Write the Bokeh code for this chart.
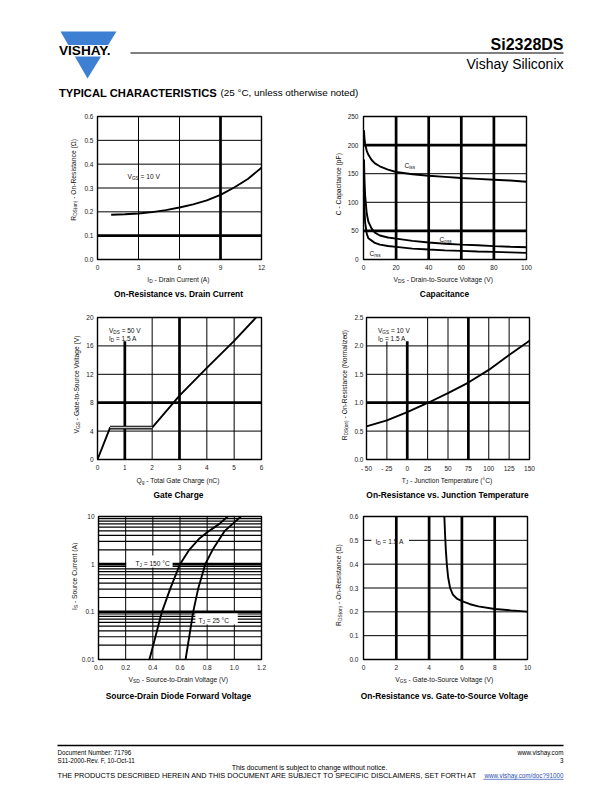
import math
from bokeh.plotting import figure
from bokeh.layouts import column, row
from bokeh.models import Range1d, Label, FixedTicker, NumeralTickFormatter
from bokeh.embed import file_html
from bokeh.resources import INLINE

FONT = "Liberation Sans"

# ---------------- data ----------------
# 1. On-Resistance vs. Drain Current (VGS = 10 V)
id_amp = [1, 2, 3, 4, 5, 6, 7, 8, 9, 10, 11, 12]
rds_vs_id = [0.188, 0.190, 0.193, 0.199, 0.207, 0.218, 0.231, 0.248, 0.271, 0.302, 0.338, 0.385]
c1_xticks = [0, 3, 6, 9, 12]
c1_yticks = [0.0, 0.1, 0.2, 0.3, 0.4, 0.5, 0.6]

# 2. Capacitance
vds_volt = [0.3, 0.6, 1, 2, 3, 5, 7, 10, 15, 20, 30, 40, 50, 60, 70, 80, 90, 100]
c_iss = [226, 212, 202, 190, 183, 174, 168, 163, 157, 153, 149, 146.5, 144.5, 142.5, 141, 139.5, 138, 136]
c_oss = [175, 140, 112, 80, 66, 54, 47, 42, 38.5, 36.5, 32.5, 29.6, 27.6, 26, 24.8, 23.4, 22.4, 21.5]
c_rss = [120, 85, 65, 45, 37, 33, 29, 26, 23.5, 22, 19, 17.4, 16, 15, 14, 13.3, 12.4, 11.6]
c2_xticks = [0, 20, 40, 60, 80, 100]
c2_yticks = [0, 50, 100, 150, 200, 250]

# 3. Gate Charge (VDS = 50 V, ID = 1.5 A)
qg_nc = [0, 0.46, 2.0, 3.0, 4.0, 5.0, 5.8]
vgs_qg = [0, 4.5, 4.5, 9.0, 12.9, 16.7, 20]
c3_xticks = [0, 1, 2, 3, 4, 5, 6]
c3_yticks = [0, 4, 8, 12, 16, 20]

# 4. On-Resistance vs. Junction Temperature
tj_c = [-50, -25, 0, 25, 50, 75, 100, 125, 150]
rds_norm = [0.584, 0.69, 0.835, 0.995, 1.168, 1.355, 1.577, 1.84, 2.09]
c4_xticks = [-50, -25, 0, 25, 50, 75, 100, 125, 150]
c4_xlabels = {-50: "- 50", -25: "- 25"}
c4_yticks = [0.0, 0.5, 1.0, 1.5, 2.0, 2.5]

# 5. Source-Drain Diode Forward Voltage
vsd_150 = [0.375, 0.419, 0.467, 0.527, 0.600, 0.668, 0.745, 0.815, 0.89, 0.951]
is_150 = [0.01, 0.03, 0.1, 0.3, 1, 2, 3.5, 5, 7, 10]
vsd_25 = [0.641, 0.668, 0.697, 0.733, 0.786, 0.840, 0.930, 1.048]
is_25 = [0.01, 0.03, 0.1, 0.3, 1, 2, 5, 10]
c5_xticks = [0.0, 0.2, 0.4, 0.6, 0.8, 1.0, 1.2]
c5_yticks = [0.01, 0.1, 1, 10]
c5_yminor = [0.02, 0.03, 0.04, 0.05, 0.06, 0.07, 0.08, 0.09,
             0.2, 0.3, 0.4, 0.5, 0.6, 0.7, 0.8, 0.9,
             2, 3, 4, 5, 6, 7, 8, 9]

# 6. On-Resistance vs. Gate-to-Source Voltage (ID = 1.5 A)
vgs_volt = [4.93, 4.97, 5.02, 5.08, 5.16, 5.28, 5.45, 5.7, 6.0, 6.5, 7.0, 8.0, 9.0, 10.0]
rds_vs_vgs = [0.6, 0.53, 0.46, 0.40, 0.345, 0.30, 0.272, 0.255, 0.245, 0.232, 0.223, 0.212, 0.206, 0.201]
c6_xticks = [0, 2, 4, 6, 8, 10]
c6_yticks = [0.0, 0.1, 0.2, 0.3, 0.4, 0.5, 0.6]

# ---------------- text helpers ----------------
W = {' ': 278, '(': 333, ')': 333, '-': 333, '.': 278, '/': 278, ':': 278, '=': 584,
     '°': 400, ',': 278, '?': 556, 'Ω': 768}
for d in "0123456789":
    W[d] = 556
W.update(dict(zip("ABCDEFGHIJKLMNOPQRSTUVWXYZ",
                  [667, 667, 722, 722, 667, 611, 778, 722, 278, 500, 667, 556, 833,
                   722, 778, 667, 778, 722, 667, 611, 722, 667, 944, 667, 667, 611])))
W.update(dict(zip("abcdefghijklmnopqrstuvwxyz",
                  [556, 556, 500, 556, 556, 278, 556, 556, 222, 222, 500, 222, 833,
                   556, 556, 556, 556, 333, 500, 278, 556, 500, 722, 500, 500, 500])))
SUB = 0.72


def tw(s, size):
    return sum(W.get(c, 556) for c in s) * size / 1000.0


def fit(s, width):
    return f"{width / tw(s, 1.0):.2f}px"


def _pieces(parts, size, align):
    items = [(t, size * SUB if sub else size, sub) for t, sub in parts]
    widths = [tw(t, s) for t, s, _ in items]
    total = sum(widths)
    off = {"left": 0, "center": -total / 2, "right": -total}[align]
    out = []
    for (t, s, sub), w in zip(items, widths):
        lead = len(t) - len(t.lstrip(" "))
        out.append((t.lstrip(" "), s, off + tw(" " * lead, s),
                    0.35 * size + (0.3 * size if sub else 0)))
        off += w
    return out


def rich_screen(p, g, px, py, parts, size, color="#111111"):
    """annotation inside a chart frame, positioned from page coordinates"""
    sx = px - g["fl"]
    sy = g["fb"] - py
    for t, s, off, drop in _pieces(parts, size, "left"):
        p.add_layout(Label(x=sx + off, y=sy - drop, x_units="screen", y_units="screen",
                           text=t, text_font=FONT, text_font_size=f"{s:.2f}px",
                           text_color=color, text_align="left", text_baseline="alphabetic"))


def rich_page(f, px, py, parts, size, align="center", vertical=False, color="#111111"):
    """text in a page-coordinate figure"""
    for t, s, off, drop in _pieces(parts, size, align):
        if vertical:
            xo, yo, ang = drop, off, math.pi / 2
        else:
            xo, yo, ang = off, -drop, 0
        f.add_layout(Label(x=px, y=py, x_offset=xo, y_offset=yo, angle=ang,
                           text=t, text_font=FONT, text_font_size=f"{s:.2f}px",
                           text_color=color, text_align="left", text_baseline="alphabetic"))


def ptext(f, x, y, text, size, align="left", bold=False, color="black"):
    f.add_layout(Label(x=x, y=y, text=text, text_font=FONT, text_font_size=size,
                       text_font_style="bold" if bold else "normal", text_color=color,
                       text_align=align, text_baseline="middle"))


def page_fig(x0, x1, y0, y1):
    f = figure(width=int(x1 - x0), height=int(y1 - y0), x_range=Range1d(x0, x1),
               y_range=Range1d(y1, y0), output_backend="svg", toolbar_location=None,
               min_border=0, x_axis_location=None, y_axis_location=None)
    f.grid.visible = False
    f.outline_line_color = None
    f.background_fill_color = "white"
    f.border_fill_color = "white"
    return f


def to_data(g, px, py):
    x0, x1 = g["xr"]
    y0, y1 = g["yr"]
    fx = (px - g["fl"]) / g["fw"]
    fy = (g["fb"] - py) / g["fh"]
    x = x0 + fx * (x1 - x0)
    if g["log"]:
        y = 10 ** (math.log10(y0) + fy * (math.log10(y1) - math.log10(y0)))
    else:
        y = y0 + fy * (y1 - y0)
    return x, y


BB = 14  # bottom border inside chart figure (x tick labels)
THIN, THICK, MINOR = 1.0, 2.7, 1.2


def chart(x0, x1, y0, fl, fw, ft, fb, bl, xr, yr, xticks, yticks,
          thick_x=(), thick_y=(), ylog=False, yminor=(), gaps=()):
    width = x1 - (fl - bl)
    height = fb + BB - y0
    p = figure(width=width, height=height, x_range=Range1d(*xr), y_range=Range1d(*yr),
               y_axis_type="log" if ylog else "linear",
               output_backend="svg", toolbar_location=None,
               min_border_left=bl, min_border_right=width - bl - fw,
               min_border_top=ft - y0, min_border_bottom=BB)
    p.outline_line_color = "black"
    p.outline_line_width = 1.4
    p.background_fill_color = "white"
    p.border_fill_color = "white"
    p.grid.visible = False
    for ax in (p.xaxis[0], p.yaxis[0]):
        ax.axis_line_color = None
        ax.major_tick_line_color = None
        ax.minor_tick_line_color = None
        ax.major_tick_out = 0
        ax.major_tick_in = 0
        ax.minor_tick_out = 0
        ax.minor_tick_in = 0
        ax.major_label_text_font = FONT
        ax.major_label_text_font_size = "6.5px"
        ax.major_label_text_color = "#222222"
    p.xaxis[0].major_label_standoff = 5
    p.yaxis[0].major_label_standoff = 4
    p.xaxis[0].ticker = FixedTicker(ticks=list(xticks))
    p.yaxis[0].ticker = FixedTicker(ticks=list(yticks))
    g = dict(fl=fl, fb=fb, fw=fw, fh=fb - ft, xr=xr, yr=yr, log=ylog)

    # white gaps left in the grid behind in-chart notes (page px rects)
    boxes = []
    for bx0, by0, bx1, by1, mode in gaps:
        l, t = to_data(g, bx0, by0)
        r, b = to_data(g, bx1, by1)
        boxes.append((l, r, b, t, mode))

    sx0, sx1, sy0, sy1, sw = [], [], [], [], []
    for v in xticks:
        w = THICK if v in thick_x else THIN
        cuts = sorted((b, t) for (l, r, b, t, m) in boxes if "v" in m and l < v < r)
        start = yr[0]
        for b, t in cuts:
            sx0.append(v); sx1.append(v); sy0.append(start); sy1.append(b); sw.append(w)
            start = t
        sx0.append(v); sx1.append(v); sy0.append(start); sy1.append(yr[1]); sw.append(w)
    for v in list(yticks) + list(yminor):
        w = THICK if v in thick_y else (THIN if v in yticks else MINOR)
        cuts = sorted((l, r) for (l, r, b, t, m) in boxes if "h" in m and b < v < t)
        start = xr[0]
        for l, r in cuts:
            sx0.append(start); sx1.append(l); sy0.append(v); sy1.append(v); sw.append(w)
            start = r
        sx0.append(start); sx1.append(xr[1]); sy0.append(v); sy1.append(v); sw.append(w)
    p.segment(x0=sx0, x1=sx1, y0=sy0, y1=sy1, line_color="black", line_width=sw)
    return p, g


LW = 1.9
RDS = [("R", 0), ("DS(on)", 1), (" - On-Resistance (Ω)", 0)]
XR = 604  # right end of content

# row vertical geometry (page px): figure top, frame top, frame bottom
R1 = (108, 116, 259)
R2 = (308, 317, 460)
R3 = (508, 516, 659)
BL = dict(c1=14, c2=17, c3=13, c4=14, c5=18, c6=15)

# ---- chart 1 ----
p1, g1 = chart(0, 308, R1[0], 95, 166, R1[1], R1[2], BL["c1"], (0, 12), (0, 0.6),
               c1_xticks, c1_yticks, thick_x=[9], thick_y=[0.1])
p1.yaxis[0].formatter = NumeralTickFormatter(format="0.0")
p1.line(id_amp, rds_vs_id, line_color="black", line_width=LW)
rich_screen(p1, g1, 125, 174, [("V", 0), ("GS", 1), (" = 10 V", 0)], 6.6)

# ---- chart 2 ----
p2, g2 = chart(308, XR, R1[0], 361, 165, R1[1], R1[2], BL["c2"], (0, 100), (0, 250),
               c2_xticks, c2_yticks, thick_x=[20, 40, 60, 80], thick_y=[200, 50])
p2.yaxis[0].major_label_standoff = 5
p2.line(vds_volt, c_iss, line_color="black", line_width=LW)
p2.line(vds_volt, c_oss, line_color="black", line_width=LW)
p2.line(vds_volt, c_rss, line_color="black", line_width=LW)
rich_screen(p2, g2, 402, 163, [("C", 0), ("iss", 1)], 6.6)
rich_screen(p2, g2, 437, 237, [("C", 0), ("oss", 1)], 6.6)
rich_screen(p2, g2, 367, 251, [("C", 0), ("rss", 1)], 6.6)

# ---- chart 3 ----
p3, g3 = chart(0, 308, R2[0], 96, 165, R2[1], R2[2], BL["c3"], (0, 6), (0, 20),
               c3_xticks, c3_yticks, thick_x=[1, 3], thick_y=[8],
               gaps=[(103.5, 317, 144, 341, "hv")])
p3.line(qg_nc, vgs_qg, line_color="black", line_width=LW)
p3.line(qg_nc[1:3], vgs_qg[1:3], line_color="black", line_width=3.8)
p3.line(qg_nc[1:3], vgs_qg[1:3], line_color="#c8c8c8", line_width=1.4)
rich_screen(p3, g3, 107.5, 329, [("V", 0), ("DS", 1), (" = 50 V", 0)], 6.5)
rich_screen(p3, g3, 107.5, 336.3, [("I", 0), ("D", 1), (" = 1.5 A", 0)], 6.5)

# ---- chart 4 ----
p4, g4 = chart(308, XR, R2[0], 365, 164, R2[1], R2[2], BL["c4"], (-50, 150), (0, 2.5),
               c4_xticks, c4_yticks, thick_x=[0, 75], thick_y=[1.0],
               gaps=[(372.5, 317, 412, 341, "hv")])
p4.xaxis[0].major_label_overrides = c4_xlabels
p4.yaxis[0].formatter = NumeralTickFormatter(format="0.0")
p4.yaxis[0].major_label_standoff = 3
p4.line(tj_c, rds_norm, line_color="black", line_width=LW)
rich_screen(p4, g4, 376.5, 329, [("V", 0), ("GS", 1), (" = 10 V", 0)], 6.5)
rich_screen(p4, g4, 376.5, 336.3, [("I", 0), ("D", 1), (" = 1.5 A", 0)], 6.5)

# ---- chart 5 ----
p5, g5 = chart(0, 308, R3[0], 96, 165, R3[1], R3[2], BL["c5"], (0, 1.2), (0.01, 10),
               c5_xticks, c5_yticks, thick_y=[0.1, 1], ylog=True, yminor=c5_yminor,
               gaps=[(124, 555, 171, 567, "hv"), (194, 612, 237, 624, "hv")])
p5.xaxis[0].formatter = NumeralTickFormatter(format="0.0")
p5.yaxis[0].formatter = NumeralTickFormatter(format="0.[00]")
p5.line(vsd_150, is_150, line_color="black", line_width=LW)
p5.line(vsd_25, is_25, line_color="black", line_width=LW)
rich_screen(p5, g5, 133, 561, [("T", 0), ("J", 1), (" = 150 °C", 0)], 6.6)
rich_screen(p5, g5, 196, 618, [("T", 0), ("J", 1), (" = 25 °C", 0)], 6.6)

# ---- chart 6 ----
p6, g6 = chart(308, XR, R3[0], 361, 166, R3[1], R3[2], BL["c6"], (0, 10), (0, 0.6),
               c6_xticks, c6_yticks, thick_x=[2, 4, 6, 8],
               gaps=[(369, 535, 407, 543.5, "h")])
p6.yaxis[0].formatter = NumeralTickFormatter(format="0.0")
p6.yaxis[0].major_label_standoff = 5
p6.line(vgs_volt, rds_vs_vgs, line_color="black", line_width=LW)
rich_screen(p6, g6, 373, 539, [("I", 0), ("D", 1), (" = 1.5 A", 0)], 6.6)


# ---------------- y-axis label columns ----------------
def ycol(x0, x1, y0, y1, px, py, parts):
    f = page_fig(x0, x1, y0, y1)
    rich_page(f, px, py, parts, 6.7, align="center", vertical=True)
    return f


h1 = R1[2] + BB
h2 = R2[2] + BB
h3 = R3[2] + BB
y1 = ycol(0, 95 - BL["c1"], R1[0], h1, 71, 181, RDS)
y2 = ycol(308, 361 - BL["c2"], R1[0], h1, 336, 186, [("C - Capacitance (pF)", 0)])
y3 = ycol(0, 96 - BL["c3"], R2[0], h2, 74, 386,
          [("V", 0), ("GS", 1), (" - Gate-to-Source Voltage (V)", 0)])
y4 = ycol(308, 365 - BL["c4"], R2[0], h2, 342, 387,
          [("R", 0), ("DS(on)", 1), (" - On-Resistance (Normalized)", 0)])
y5 = ycol(0, 96 - BL["c5"], R3[0], h3, 71.5, 577,
          [("I", 0), ("S", 1), (" - Source Current (A)", 0)])
y6 = ycol(308, 361 - BL["c6"], R3[0], h3, 336, 587, RDS)


def title(f, px, py, text):
    f.add_layout(Label(x=px, y=py, text=text, text_font=FONT, text_font_size="8.4px",
                       text_font_style="bold", text_color="black",
                       text_align="center", text_baseline="middle"))


# ---------------- strips under each row: x-axis labels + titles ----------------
s1 = page_fig(0, XR, h1, R2[0])
rich_page(s1, 178, 277, [("I", 0), ("D", 1), (" - Drain Current (A)", 0)], 6.7)
rich_page(s1, 443, 277, [("V", 0), ("DS", 1), (" - Drain-to-Source Voltage (V)", 0)], 6.7)
title(s1, 178, 293, "On-Resistance vs. Drain Current")
title(s1, 444, 293, "Capacitance")

s2 = page_fig(0, XR, h2, R3[0])
rich_page(s2, 178, 478, [("Q", 0), ("g", 1), (" - Total Gate Charge (nC)", 0)], 6.7)
rich_page(s2, 447, 478, [("T", 0), ("J", 1), (" - Junction Temperature (°C)", 0)], 6.7)
title(s2, 178, 494, "Gate Charge")
title(s2, 447, 494, "On-Resistance vs. Junction Temperature")

s3 = page_fig(0, XR, h3, 708)
rich_page(s3, 178, 677, [("V", 0), ("SD", 1), (" - Source-to-Drain Voltage (V)", 0)], 6.7)
rich_page(s3, 444, 677, [("V", 0), ("GS", 1), (" - Gate-to-Source Voltage (V)", 0)], 6.7)
title(s3, 178, 695, "Source-Drain Diode Forward Voltage")
title(s3, 444, 695, "On-Resistance vs. Gate-to-Source Voltage")

# ---------------- header & footer ----------------
hdr = page_fig(0, XR, 0, 108)
hdr.patch([60, 116, 87], [31, 31, 78], fill_color="#3d7fd2", line_color=None)
hdr.quad(left=55, right=122, top=44.5, bottom=56, fill_color="white", line_color=None)
ptext(hdr, 58.5, 49.6, "VISHAY.", "13.6px", bold=True)
hdr.segment(x0=[130], y0=[52.5], x1=[563], y1=[52.5], line_color="black", line_width=1.2)
ptext(hdr, 563, 44, "Si2328DS", "16px", align="right", bold=True)
ptext(hdr, 563, 63.5, "Vishay Siliconix", "14px", align="right")
ptext(hdr, 58.5, 92, "TYPICAL CHARACTERISTICS", "11.2px", bold=True)
ptext(hdr, 220, 92, "(25 °C, unless otherwise noted)", "9.9px")

DISC = ("THE PRODUCTS DESCRIBED HEREIN AND THIS DOCUMENT ARE SUBJECT TO SPECIFIC "
        "DISCLAIMERS, SET FORTH AT")
NOTICE = "This document is subject to change without notice."
ftr = page_fig(0, XR, 708, 784)
ftr.segment(x0=[57], y0=[745], x1=[563], y1=[745], line_color="black", line_width=1.3)
ptext(ftr, 57, 751.5, "Document Number: 71796", "6.3px")
ptext(ftr, 57, 759.5, "S11-2000-Rev. F, 10-Oct-11", "6.3px")
ptext(ftr, 563, 751.5, "www.vishay.com", "6.3px", align="right")
ptext(ftr, 563, 759.5, "3", "6.3px", align="right")
ptext(ftr, 309, 767.3, NOTICE, fit(NOTICE, 156), align="center")
ptext(ftr, 57, 775.3, DISC, fit(DISC, 422))
ptext(ftr, 563, 775.3, "www.vishay.com/doc?91000", "6.3px", align="right", color="#2a4fb0")
ftr.segment(x0=[483], y0=[778.8], x1=[563], y1=[778.8], line_color="#2a4fb0", line_width=0.7)

layout = column(hdr,
                row(y1, p1, y2, p2), s1,
                row(y3, p3, y4, p4), s2,
                row(y5, p5, y6, p6), s3,
                ftr)
open("out.html", "w").write(file_html(layout, INLINE))
